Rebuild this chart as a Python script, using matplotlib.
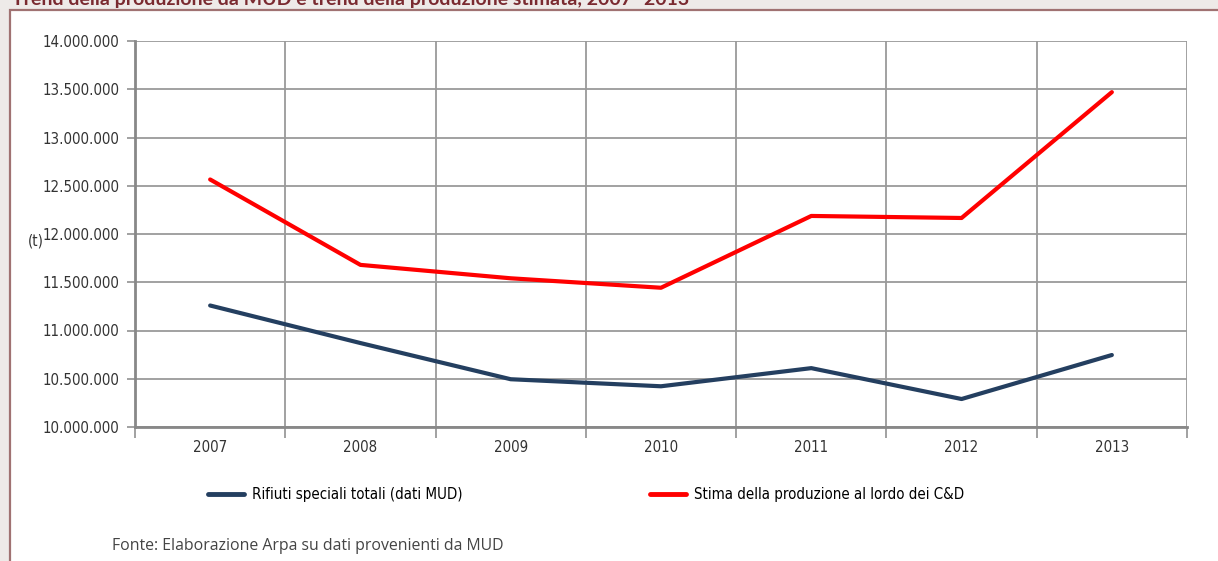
import matplotlib.pyplot as plt
import matplotlib.patches as patches
from matplotlib.lines import Line2D
from matplotlib import font_manager
import numpy as np

# values (tonnes)
anni = ['2007', '2008', '2009', '2010', '2011', '2012', '2013']
rifiuti_mud = [11259000, 10870000, 10495000, 10422000, 10610000, 10290000, 10746000]
stima_cd = [12565000, 11680000, 11541000, 11443000, 12187000, 12166000, 13470000]
y_ticks = [10000000, 10500000, 11000000, 11500000, 12000000, 12500000, 13000000, 13500000, 14000000]


def pick_condensed():
    # upright, regular-weight narrow face if installed
    ok = [f for f in font_manager.fontManager.ttflist
          if f.style == 'normal' and f.weight in (400, 'normal', 'regular', 'book')]
    for name, size in (('Liberation Sans Narrow', 12.5), ('DejaVu Sans Condensed', 10.8)):
        hit = [f for f in ok if f.name == name]
        if hit:
            return hit[0].fname, size
    hit = [f for f in ok if f.name == 'DejaVu Sans' and 'condensed' in str(f.stretch)]
    if hit:
        return hit[0].fname, 10.8
    return None, 10.5


fname, tick_size = pick_condensed()
if fname:
    narrow = font_manager.FontProperties(fname=fname, size=tick_size)
else:
    narrow = font_manager.FontProperties(family=['Lato', 'DejaVu Sans'], size=tick_size)

grid_col = '#9a9a9a'
blu = '#243f60'
rosso = '#ff0000'

fig = plt.figure(figsize=(12.18, 5.61), dpi=100, facecolor='#eeeae8')

# white panel with reddish border
panel = patches.Rectangle((10/1218, -0.1), 1.2, 1 - 10/561 + 0.1, transform=fig.transFigure,
                          facecolor='white', edgecolor='#a07272', linewidth=1.6, zorder=-5)
fig.patches.append(panel)

# title, cut by the top edge as in the source
fig.text(12/1218, 1 - 5/561, 'Trend della produzione da MUD e trend della produzione stimata, 2007- 2013',
         family=['Lato', 'DejaVu Sans'], fontweight='bold', fontsize=14, color='#7a2a30', va='baseline', ha='left')

ax = fig.add_axes([135/1218, 1 - 427/561, (1187 - 135)/1218, (427 - 41)/561])
ax.set_facecolor('white')
x = np.arange(len(anni))
l1, = ax.plot(x, rifiuti_mud, color=blu, linewidth=3, solid_capstyle='round', zorder=3)
l2, = ax.plot(x, stima_cd, color=rosso, linewidth=3, solid_capstyle='round', zorder=3)

ax.set_xlim(-0.5, len(anni) - 0.5)
ax.set_ylim(10000000, 14000000)
ax.set_yticks(y_ticks)
ax.set_yticklabels(['{:,}'.format(v).replace(',', '.') for v in y_ticks], fontproperties=narrow, color='#333333')
ax.set_xticks(x)
ax.set_xticklabels(anni, fontproperties=narrow, color='#333333')
ax.set_xticks(np.arange(-0.5, len(anni)), minor=True)
ax.tick_params(axis='x', which='major', length=0, pad=9)
ax.tick_params(axis='x', which='minor', length=8, width=1.3, color=grid_col)
ax.tick_params(axis='y', length=6, width=1.3, color=grid_col, pad=5)
ax.grid(True, axis='y', color=grid_col, linewidth=1.3)
ax.grid(True, axis='x', which='minor', color=grid_col, linewidth=1.3)
for s in ['top', 'right']:
    ax.spines[s].set_visible(False)
for s in ['left', 'bottom']:
    ax.spines[s].set_color('#888888')
    ax.spines[s].set_linewidth(2)
ax.set_axisbelow(True)

fig.text(28/1218, 1 - 241/561, '(t)', fontproperties=narrow, color='#333333', va='center')

# legend, two separate entries like the original
fig.legend(handles=[Line2D([], [], color=blu, linewidth=3.5, solid_capstyle='round')],
           labels=['Rifiuti speciali totali (dati MUD)'], loc='center left',
           bbox_to_anchor=(208/1218, 1 - 495/561), frameon=False, borderpad=0, borderaxespad=0,
           handlelength=2.4, handletextpad=0.5, prop=narrow)
fig.legend(handles=[Line2D([], [], color=rosso, linewidth=3.5, solid_capstyle='round')],
           labels=['Stima della produzione al lordo dei C&D'], loc='center left',
           bbox_to_anchor=(650/1218, 1 - 495/561), frameon=False, borderpad=0, borderaxespad=0,
           handlelength=2.4, handletextpad=0.5, prop=narrow)

fig.text(112/1218, 1 - 546/561, 'Fonte: Elaborazione Arpa su dati provenienti da MUD',
         family=['Open Sans', 'DejaVu Sans'], fontsize=11.4, color='#444444', va='center')

plt.savefig('out.png', dpi=100, facecolor=fig.get_facecolor())
